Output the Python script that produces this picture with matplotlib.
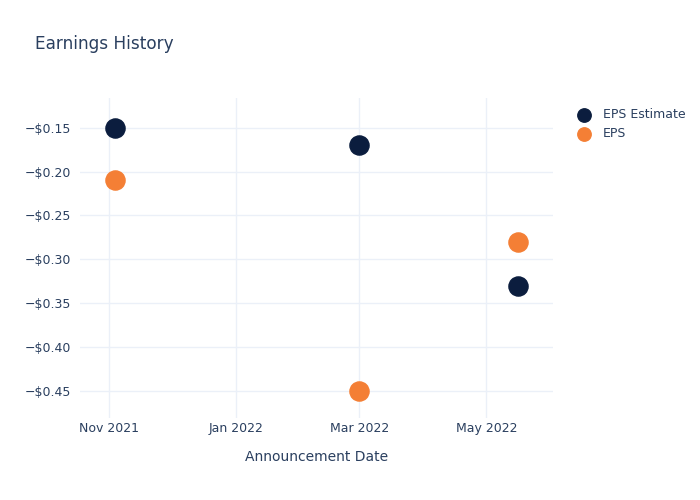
import matplotlib
matplotlib.use("Agg")
import matplotlib.pyplot as plt
import pandas as pd

# data
dates = pd.to_datetime(["2021-11-04", "2022-03-01", "2022-05-16"])
eps_estimate = [-0.15, -0.17, -0.33]
eps_actual = [-0.21, -0.45, -0.28]
tick_dates = pd.to_datetime(["2021-11-01", "2022-01-01", "2022-03-01", "2022-05-01"])
tick_labels = ["Nov 2021", "Jan 2022", "Mar 2022", "May 2022"]
y_ticks = [-0.15, -0.20, -0.25, -0.30, -0.35, -0.40, -0.45]

text_col = "#2a3f5f"
grid_col = "#ebf0f8"

fig = plt.figure(figsize=(7, 5), dpi=100)
ax = fig.add_axes([0.114, 0.164, 0.676, 0.64])

ax.scatter(dates, eps_estimate, s=190, color="#0b1d3e", label="EPS Estimate", zorder=3)
ax.scatter(dates, eps_actual, s=190, color="#f47f35", label="EPS", zorder=3)

ax.set_xlim(pd.Timestamp("2021-10-18"), pd.Timestamp("2022-06-02"))
ax.set_ylim(-0.481, -0.116)

ax.set_xticks(tick_dates)
ax.set_xticklabels(tick_labels)
ax.set_yticks(y_ticks)
ax.set_yticklabels(["\u2212$%.2f" % abs(v) for v in y_ticks])

ax.grid(True, color=grid_col, linewidth=1)
ax.set_axisbelow(True)
for s in ax.spines.values():
    s.set_visible(False)
ax.tick_params(length=0, colors=text_col, labelsize=9, pad=6)
ax.tick_params(axis="x", pad=3)

ax.set_xlabel("Announcement Date", color=text_col, fontsize=10, labelpad=11)
fig.text(0.05, 0.912, "Earnings History", color=text_col, fontsize=12.2, va="center")

leg = ax.legend(loc="upper left", bbox_to_anchor=(1.015, 1.003), frameon=False,
                fontsize=9, labelcolor=text_col, handletextpad=0.5,
                labelspacing=0.45, markerscale=0.7)

fig.savefig("out.png", dpi=100)
